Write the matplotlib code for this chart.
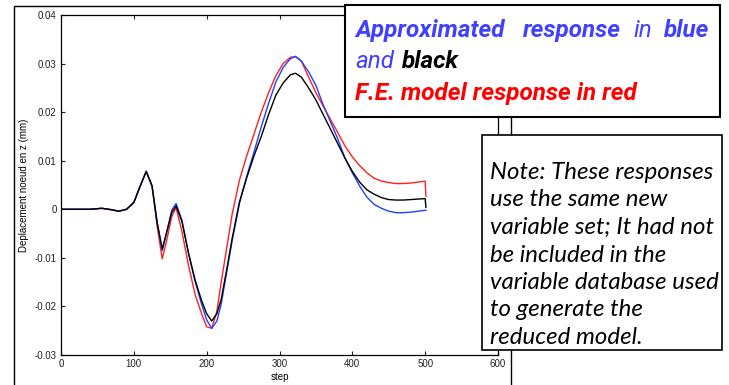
import matplotlib
matplotlib.use('Agg')
import matplotlib.pyplot as plt
from matplotlib.patches import Rectangle

# step grid
steps = [0, 20, 40, 56, 70, 79, 90, 100, 108, 117, 125, 132, 139, 145, 152, 158, 166, 175,
         184, 193, 200, 207, 214, 220, 228, 235, 245, 255, 265, 275, 285, 295, 305, 315,
         322, 330, 340, 350, 360, 370, 380, 390, 400, 410, 420, 430, 440, 450, 460, 470,
         480, 490, 500, 501]

black = [0, 0, 0, 0.0002, -0.0001, -0.0004, 0.0, 0.0014, 0.0045, 0.0078, 0.0048, -0.0027,
         -0.0082, -0.0048, -0.0007, 0.0007, -0.0025, -0.0090, -0.0145, -0.0188, -0.0215,
         -0.0230, -0.0215, -0.0185, -0.0120, -0.0060, 0.0015, 0.0065, 0.0110, 0.0150, 0.0195,
         0.0235, 0.0260, 0.0277, 0.0280, 0.0272, 0.0250, 0.0225, 0.0195, 0.0165, 0.0135,
         0.0105, 0.0078, 0.0056, 0.0040, 0.0031, 0.0024, 0.0020, 0.0019, 0.0019, 0.0020,
         0.0021, 0.0022, 0.0004]

red = [0, 0, 0, 0.0002, -0.0001, -0.0004, 0.0, 0.0014, 0.0045, 0.0078, 0.0048, -0.0035,
       -0.0102, -0.0065, -0.0015, 0.0003, -0.0045, -0.0115, -0.0175, -0.0215, -0.0242,
       -0.0245, -0.0210, -0.0150, -0.0075, -0.0010, 0.0060, 0.0110, 0.0155, 0.0200, 0.0240,
       0.0275, 0.0300, 0.0313, 0.0314, 0.0305, 0.0272, 0.0240, 0.0212, 0.0185, 0.0158,
       0.0130, 0.0108, 0.0090, 0.0075, 0.0064, 0.0058, 0.0055, 0.0053, 0.0053, 0.0054,
       0.0056, 0.0058, 0.0027]

blue = [0, 0, 0, 0.0002, -0.0001, -0.0004, 0.0, 0.0014, 0.0045, 0.0078, 0.0048, -0.0027,
        -0.0085, -0.0048, -0.0002, 0.0012, -0.0022, -0.0090, -0.0148, -0.0195, -0.0228,
        -0.0245, -0.0230, -0.0195, -0.0125, -0.0065, 0.0012, 0.0068, 0.0118, 0.0170, 0.0218,
        0.0262, 0.0292, 0.0310, 0.0315, 0.0305, 0.0283, 0.0255, 0.0215, 0.0180, 0.0145,
        0.0105, 0.0075, 0.0048, 0.0025, 0.0010, 0.0002, -0.0004, -0.0007, -0.0007, -0.0006,
        -0.0004, -0.0002, -0.0002]

xticks = [0, 100, 200, 300, 400, 500, 600]
yticks = [-0.03, -0.02, -0.01, 0, 0.01, 0.02, 0.03, 0.04]
ylabels = ['-0.03', '-0.02', '-0.01', '0', '0.01', '0.02', '0.03', '0.04']

W, H = 729, 385
fig = plt.figure(figsize=(7.29, 3.85), dpi=100)
ax = fig.add_axes([61/W, 1-355/H, (498-61)/W, (355-15)/H])

ax.plot(steps, red, color='#ff2020', lw=1.0)
ax.plot(steps, blue, color='#2040ff', lw=1.0)
ax.plot(steps, black, color='black', lw=1.0)

ax.set_xlim(0, 600)
ax.set_ylim(-0.03, 0.04)
ax.set_xticks(xticks)
ax.set_yticks(yticks)
ax.set_yticklabels(ylabels)
ax.tick_params(direction='in', length=3, width=0.8, labelsize=7, top=True, right=True,
               colors='#222222', pad=3)
for lab in ax.get_xticklabels() + ax.get_yticklabels():
    lab.set_family('Liberation Sans')
for s in ax.spines.values():
    s.set_linewidth(0.9)
ax.set_xlabel('step', fontsize=7, family='Liberation Sans', labelpad=2)
ax.set_ylabel('Deplacement noeud en z (mm)', fontsize=7, family='Liberation Sans', labelpad=4)

# outer frame of the matlab figure
fig.add_artist(Rectangle((14/W, -0.1), (511-14)/W, 1.1-6/H, transform=fig.transFigure,
                         fill=False, ec='black', lw=1.0, zorder=5))

renderer = fig.canvas.get_renderer()


def fit(t, width_px):
    # scale font so the text spans the width measured on the picture
    w = t.get_window_extent(renderer).width
    t.set_fontsize(t.get_fontsize() * width_px / w)


# legend box
fig.add_artist(Rectangle((345/W, 1-117/H), 375/W, 112/H, transform=fig.transFigure,
                         fc='white', ec='black', lw=1.5, zorder=10))
bl = '#4040ff'
kw = dict(fontsize=15, family='Roboto', style='italic', va='baseline', zorder=11)
t3 = fig.text(355/W, 1-100/H, 'F.E. model response in red', color='#ff0000', weight='bold', **kw)
fit(t3, 283)
kw['fontsize'] = t3.get_fontsize()
fig.text(355/W, 1-37/H, 'Approximated', color=bl, weight='bold', **kw)
fig.text(523/W, 1-37/H, 'response', color=bl, weight='bold', **kw)
fig.text(633/W, 1-37/H, 'in', color=bl, **kw)
fig.text(709/W, 1-37/H, 'blue', color=bl, weight='bold', ha='right', **kw)
fig.text(355/W, 1-68/H, 'and', color=bl, **kw)
fig.text(402/W, 1-68/H, 'black', color='black', weight='bold', **kw)

# note box
fig.add_artist(Rectangle((482/W, 1-350/H), 240/W, 215/H, transform=fig.transFigure,
                         fc='white', ec='black', lw=1.2, zorder=10))
note = ['Note: These responses', 'use the same new', 'variable set; It had not',
        'be included in the', 'variable database used', 'to generate the',
        'reduced model.']
nts = []
for i, line in enumerate(note):
    nts.append(fig.text(490/W, 1-(179+27.5*i)/H, line, fontsize=13.5, family='Lato',
                        style='italic', va='baseline', zorder=11))
fit(nts[0], 223)
for t in nts[1:]:
    t.set_fontsize(nts[0].get_fontsize())

fig.savefig('out.png', dpi=100)
